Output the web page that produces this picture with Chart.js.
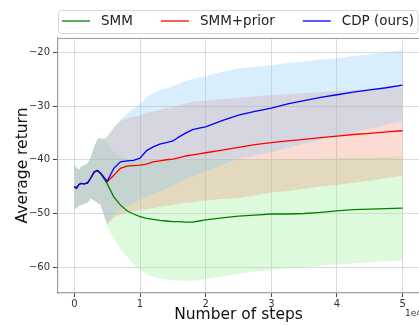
<!DOCTYPE html>
<html>
<head>
<meta charset="utf-8">
<script src="https://cdn.jsdelivr.net/npm/chart.js@4.4.1/dist/chart.umd.min.js"></script>
<style>
  html, body { margin: 0; padding: 0; background: #ffffff; }
  #wrap { width: 419px; height: 325px; position: relative; }
</style>
</head>
<body>
<div id="wrap"><canvas id="c" width="419" height="325"></canvas></div>
<script>
// ---- data (x in units of 1e4 steps) ----
const steps = [0, 0.03, 0.07, 0.1, 0.15, 0.2, 0.25, 0.3, 0.35, 0.4, 0.45, 0.5, 0.55, 0.6, 0.7, 0.8, 0.9, 1.0, 1.1, 1.2, 1.3, 1.4, 1.5, 1.6, 1.7, 1.8, 1.9, 2.0, 2.25, 2.5, 2.75, 3.0, 3.25, 3.5, 3.75, 4.0, 4.25, 4.5, 4.75, 5.0];

const seriesLabels = ['SMM', 'SMM+prior', 'CDP (ours)'];

const smmMean  = [-45.0, -45.3, -44.6, -44.4, -44.5, -44.3, -43.4, -42.3, -42.0, -42.6, -43.5, -44.5, -45.7, -46.9, -48.4, -49.5, -50.1, -50.6, -50.9, -51.1, -51.3, -51.4, -51.5, -51.5, -51.6, -51.6, -51.4, -51.2, -50.8, -50.5, -50.3, -50.1, -50.1, -50.0, -49.8, -49.5, -49.3, -49.2, -49.1, -49.0];
const smmUpper = [-41.0, -41.5, -41.8, -41.3, -41.0, -40.7, -39.5, -37.6, -36.2, -36.0, -36.2, -37.0, -37.8, -38.5, -39.3, -39.8, -40.0, -40.1, -40.1, -40.1, -40.1, -40.1, -40.1, -40.1, -40.1, -40.1, -40.1, -40.1, -40.1, -40.1, -40.0, -40.0, -39.9, -39.9, -39.8, -39.7, -39.6, -39.6, -39.5, -39.4];
const smmLower = [-49.2, -49.0, -48.6, -48.4, -48.2, -48.0, -47.2, -47.6, -48.0, -48.4, -50.3, -52.2, -53.5, -54.6, -56.5, -58.0, -59.5, -60.5, -61.3, -61.8, -62.1, -62.3, -62.4, -62.5, -62.5, -62.5, -62.4, -62.2, -61.7, -61.2, -60.8, -60.5, -60.2, -60.0, -59.7, -59.5, -59.3, -59.1, -58.9, -58.8];

const priorMean  = [-45.0, -45.3, -44.6, -44.4, -44.5, -44.3, -43.4, -42.3, -42.0, -42.5, -43.3, -44.1, -43.5, -42.9, -41.6, -41.2, -41.1, -41.0, -40.8, -40.4, -40.2, -40.0, -39.9, -39.6, -39.3, -39.1, -38.9, -38.7, -38.2, -37.7, -37.2, -36.8, -36.5, -36.2, -35.9, -35.6, -35.3, -35.1, -34.8, -34.6];
const priorUpper = [-41.0, -41.5, -41.8, -41.3, -41.0, -40.7, -39.5, -37.6, -36.2, -36.0, -36.2, -35.6, -34.8, -34.0, -32.8, -32.3, -32.0, -31.7, -31.3, -31.0, -30.7, -30.4, -30.2, -29.9, -29.5, -29.2, -29.1, -29.0, -28.7, -28.5, -28.2, -28.0, -27.8, -27.6, -27.4, -27.2, -27.0, -26.8, -26.6, -26.5];
const priorLower = [-49.2, -49.0, -48.6, -48.4, -48.2, -48.0, -47.2, -47.6, -48.0, -48.4, -50.3, -52.2, -51.4, -50.8, -50.2, -49.8, -49.6, -49.4, -49.2, -49.0, -48.8, -48.6, -48.4, -48.2, -48.0, -47.9, -47.7, -47.6, -47.3, -47.1, -46.6, -46.1, -45.8, -45.4, -45.0, -44.7, -44.3, -43.9, -43.4, -43.0];

const cdpMean  = [-45.0, -45.3, -44.6, -44.4, -44.5, -44.3, -43.4, -42.3, -42.0, -42.5, -43.3, -44.0, -42.8, -41.6, -40.4, -40.2, -40.1, -39.7, -38.3, -37.6, -37.1, -36.8, -36.5, -35.7, -35.0, -34.4, -34.1, -33.9, -32.7, -31.7, -31.0, -30.4, -29.6, -29.0, -28.4, -27.9, -27.4, -27.0, -26.6, -26.1];
const cdpUpper = [-41.0, -41.5, -41.8, -41.3, -41.0, -40.7, -39.5, -37.6, -36.2, -36.0, -36.2, -35.8, -35.0, -34.0, -32.6, -31.5, -30.5, -29.6, -28.3, -27.6, -27.0, -26.7, -26.3, -25.8, -25.3, -25.0, -24.7, -24.4, -23.6, -23.0, -22.7, -22.4, -22.0, -21.7, -21.4, -21.1, -20.7, -20.4, -20.0, -19.6];
const cdpLower = [-49.2, -49.0, -48.6, -48.4, -48.2, -48.0, -47.2, -47.6, -48.0, -48.4, -50.3, -51.8, -51.0, -50.3, -49.3, -48.5, -48.0, -47.5, -46.9, -46.3, -45.8, -45.3, -44.9, -44.3, -43.6, -43.1, -42.7, -42.2, -41.0, -39.8, -39.2, -38.6, -37.8, -37.0, -36.3, -35.6, -34.9, -34.2, -33.5, -32.9];

const xTicks = [0, 1, 2, 3, 4, 5];
const yTicks = [-60, -50, -40, -30, -20];

// ---- styles ----
const FONT = 'DejaVu Sans';
const lineColors = { 'SMM': '#008000', 'SMM+prior': '#ff0000', 'CDP (ours)': '#0000ff' };
const bandColors = { 'SMM': 'rgba(144,238,144,0.3)', 'SMM+prior': 'rgba(240,140,115,0.3)', 'CDP (ours)': 'rgba(125,200,250,0.3)' };

function pts(ys) { return steps.map((x, i) => ({ x: x, y: ys[i] })); }

function seriesDatasets(label, mean, upper, lower) {
  return [
    { label: label + ' upper', data: pts(upper), borderWidth: 0, borderColor: 'rgba(0,0,0,0)', pointRadius: 0,
      backgroundColor: bandColors[label], fill: '+1', tension: 0 },
    { label: label + ' lower', data: pts(lower), borderWidth: 0, borderColor: 'rgba(0,0,0,0)', pointRadius: 0,
      fill: false, tension: 0 },
    { label: label, data: pts(mean), borderWidth: 1.3, borderColor: lineColors[label], pointRadius: 0,
      fill: false, tension: 0 }
  ];
}

// index 0 is drawn on top: CDP band above SMM+prior above SMM
const datasets = [].concat(
  seriesDatasets('CDP (ours)', cdpMean, cdpUpper, cdpLower),
  seriesDatasets('SMM+prior', priorMean, priorUpper, priorLower),
  seriesDatasets('SMM', smmMean, smmUpper, smmLower)
);

function fmtMinus(v) { return v < 0 ? '\u2212' + Math.abs(v) : String(v); }

const decorPlugin = {
  id: 'decor',
  afterDraw(chart) {
    const ctx = chart.ctx;
    const a = chart.chartArea;
    ctx.save();
    // top spine
    ctx.strokeStyle = '#9e9e9e';
    ctx.lineWidth = 1.2;
    ctx.beginPath();
    ctx.moveTo(a.left, a.top + 0.5);
    ctx.lineTo(a.right, a.top + 0.5);
    ctx.stroke();

    // offset text for x axis
    ctx.fillStyle = '#333333';
    ctx.font = '9px "' + FONT + '"';
    ctx.textAlign = 'left';
    ctx.textBaseline = 'alphabetic';
    ctx.fillText('1e4', 405, 316);

    // legend frame
    const bx = 58.5, by = 10.5, bw = 359.5, bh = 23, r = 3;
    ctx.beginPath();
    ctx.moveTo(bx + r, by);
    ctx.lineTo(bx + bw - r, by);
    ctx.arcTo(bx + bw, by, bx + bw, by + r, r);
    ctx.lineTo(bx + bw, by + bh - r);
    ctx.arcTo(bx + bw, by + bh, bx + bw - r, by + bh, r);
    ctx.lineTo(bx + r, by + bh);
    ctx.arcTo(bx, by + bh, bx, by + bh - r, r);
    ctx.lineTo(bx, by + r);
    ctx.arcTo(bx, by, bx + r, by, r);
    ctx.closePath();
    ctx.fillStyle = 'rgba(255,255,255,0.8)';
    ctx.fill();
    ctx.strokeStyle = '#d6d6d6';
    ctx.lineWidth = 1;
    ctx.stroke();

    // legend items
    ctx.font = '13.5px "' + FONT + '"';
    const lineLen = 28, gap = 11, itemGap = 28;
    const widths = seriesLabels.map(l => lineLen + gap + ctx.measureText(l).width);
    const total = widths.reduce((s, w) => s + w, 0) + itemGap * (seriesLabels.length - 1);
    let x = 238 - total / 2;
    const yMid = 21;
    seriesLabels.forEach((l, i) => {
      const ds = chart.data.datasets.find(d => d.label === l);
      ctx.strokeStyle = ds.borderColor;
      ctx.lineWidth = 1.3;
      ctx.beginPath();
      ctx.moveTo(x, yMid);
      ctx.lineTo(x + lineLen, yMid);
      ctx.stroke();
      ctx.fillStyle = '#222222';
      ctx.textBaseline = 'middle';
      ctx.fillText(l, x + lineLen + gap, yMid + 0.5);
      x += widths[i] + itemGap;
    });
    ctx.restore();
  }
};

new Chart(document.getElementById('c'), {
  type: 'line',
  data: { datasets: datasets },
  options: {
    responsive: false,
    devicePixelRatio: 1,
    animation: false,
    layout: { padding: { left: 0, right: 0, top: 38, bottom: 0 } },
    plugins: {
      legend: { display: false },
      tooltip: { enabled: false },
      filler: { drawTime: 'beforeDatasetsDraw', propagate: false }
    },
    scales: {
      x: {
        type: 'linear',
        min: -0.25,
        max: 5.25,
        afterBuildTicks: s => { s.ticks = xTicks.map(v => ({ value: v })); },
        afterFit: s => { s.height = 32; },
        grid: { color: '#dcdcdc', lineWidth: 1, tickColor: '#444444', tickLength: 4 },
        border: { color: '#9e9e9e', width: 1.2 },
        ticks: { color: '#333333', font: { family: FONT, size: 10 }, padding: 1, maxRotation: 0,
                 callback: v => fmtMinus(v) },
        title: { display: true, text: 'Number of steps', color: '#111111',
                 font: { family: FONT, size: 15.5 }, padding: { top: 0, bottom: 1 } }
      },
      y: {
        type: 'linear',
        min: -64.8,
        max: -17.34,
        afterBuildTicks: s => { s.ticks = yTicks.map(v => ({ value: v })); },
        afterFit: s => { s.width = 58; },
        grid: { color: '#dcdcdc', lineWidth: 1, tickColor: '#444444', tickLength: 5 },
        border: { color: '#9e9e9e', width: 1.2 },
        ticks: { color: '#333333', font: { family: FONT, size: 10 }, padding: 3,
                 callback: v => fmtMinus(v) },
        title: { display: true, text: 'Average return', color: '#111111',
                 font: { family: FONT, size: 15.5 }, padding: { top: 14, bottom: 0 } }
      }
    }
  },
  plugins: [decorPlugin]
});
</script>
</body>
</html>
